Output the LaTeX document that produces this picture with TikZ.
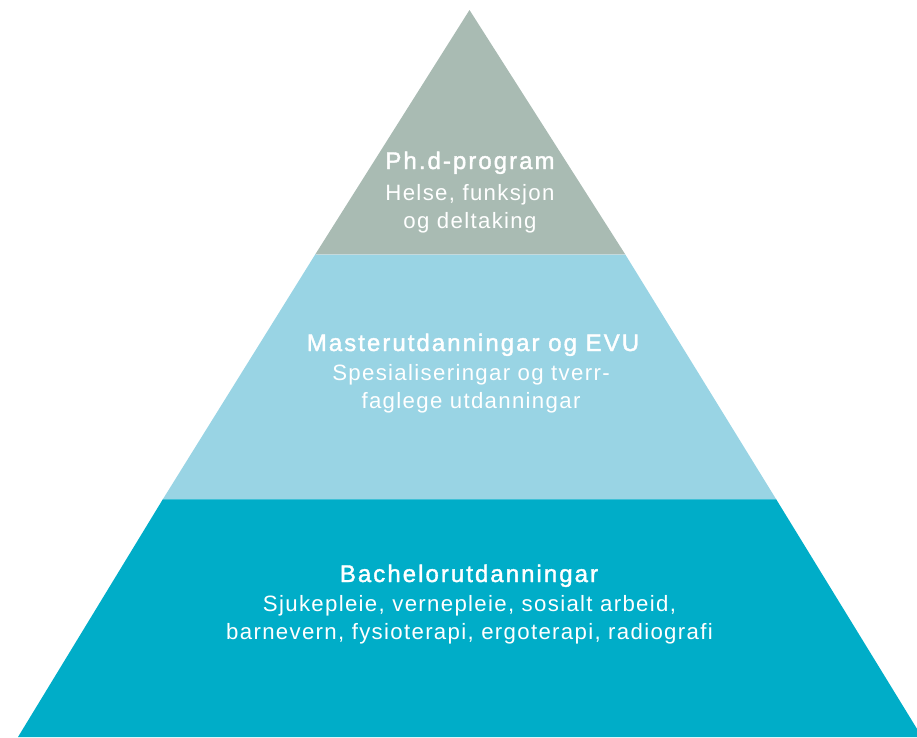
\documentclass[tikz,border=0pt]{standalone}
\usepackage{fontspec}
\setmainfont{Liberation Sans}
\newfontfamily\subfont[LetterSpace=6]{Liberation Sans}
\newfontfamily\titlefont[LetterSpace=8.5,FakeBold=1.6]{Liberation Sans}
\definecolor{phdgray}{HTML}{A9BBB3}
\definecolor{masterblue}{HTML}{99D4E4}
\definecolor{bachteal}{HTML}{00ADC8}
\definecolor{sepone}{HTML}{C4D9DC}
\definecolor{septwo}{HTML}{3EC0D6}
\begin{document}
\begin{tikzpicture}[x=1pt,y=-1pt,
  titletext/.style={text=white,inner sep=0pt,anchor=base,font=\titlefont\fontsize{24}{28}\selectfont},
  subtext/.style={text=white,inner sep=0pt,anchor=base,font=\subfont\fontsize{22.2}{26}\selectfont},
  septline/.style={line width=1pt}]
\useasboundingbox (0,0) rectangle (917,737);
\begin{scope}
\clip (0,0) rectangle (917,737);
% layers
\fill[phdgray] (469.5,10) -- (625,254) -- (315.5,254) -- cycle;
\fill[masterblue] (315.5,254) -- (625,254) -- (776,499) -- (163,499) -- cycle;
\fill[bachteal] (163,499) -- (776,499) -- (922,737) -- (18,737) -- cycle;
\coordinate (s1l) at (315.8,254);
\coordinate (s1r) at (624.7,254);
\coordinate (s2l) at (163.3,499);
\coordinate (s2r) at (775.7,499);
\draw[septline,sepone] (s1l) -- (s1r);
\draw[septline,septwo] (s2l) -- (s2r);
\end{scope}
% texts
\node[titletext] (phd) at (470,169) {Ph.d-program};
\node[subtext] (phda) at (470,200) {Helse, funksjon};
\node[subtext] (phdb) at (470,228) {og deltaking};
\node[titletext] (mas) at (473,351) {Masterutdanningar og EVU};
\node[subtext] (masa) at (471,380) {Spesialiseringar og tverr-};
\node[subtext] (masb) at (471,408) {faglege utdanningar};
\node[titletext] (bach) at (469,582) {Bachelorutdanningar};
\node[subtext] (bacha) at (469.5,611.5) {Sjukepleie, vernepleie, sosialt arbeid,};
\node[subtext] (bachb) at (469.5,639) {barnevern, fysioterapi, ergoterapi, radiografi};
\end{tikzpicture}
\end{document}
